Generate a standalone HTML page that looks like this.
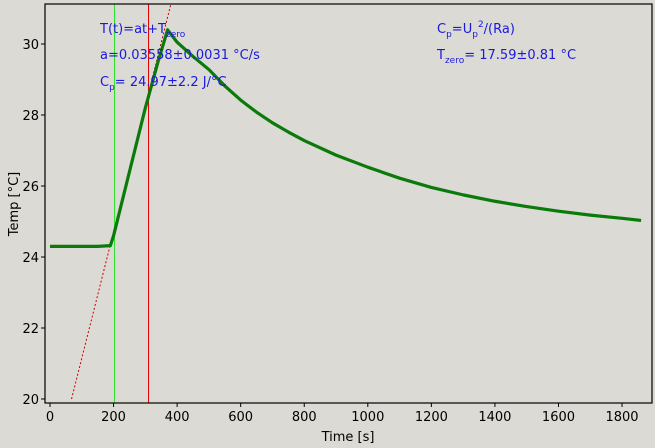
<!DOCTYPE html>
<html><head><meta charset="utf-8"><style>
body{margin:0;background:#dcdad5;}
svg{display:block;font-family:"DejaVu Sans","Liberation Sans",sans-serif;}
</style></head><body>
<svg id="chart" width="655" height="448" viewBox="0 0 655 448">
<rect x="0" y="0" width="655" height="448" fill="#dcdad5"/>
<g id="plot"></g>
<rect x="45" y="4" width="607" height="399" fill="none" stroke="#000" stroke-width="1.2"/>
<g id="axes"></g>
<text x="348" y="441" font-size="13" text-anchor="middle">Time [s]</text>
<text x="18" y="204" font-size="13" text-anchor="middle" transform="rotate(-90 18 204)">Temp [°C]</text>
<g fill="#1a1adc" font-size="13">
<text x="100" y="33">T(t)=at+T<tspan font-size="9" dy="4">zero</tspan></text>
<text x="100" y="59">a=0.03558±0.0031 °C/s</text>
<text x="100" y="86">C<tspan font-size="9" dy="4">p</tspan><tspan dy="-4">= 24.97±2.2 J/°C</tspan></text>
<text x="437" y="33">C<tspan font-size="9" dy="4">p</tspan><tspan dy="-4">=U</tspan><tspan font-size="9" dy="4">p</tspan><tspan font-size="9" dy="-10">2</tspan><tspan dy="6">/(Ra)</tspan></text>
<text x="437" y="59">T<tspan font-size="9" dy="4">zero</tspan><tspan dy="-4">= 17.59±0.81 °C</tspan></text>
</g>
</svg>
<script>
const timeS=[0,50,100,150,190,200,250,300,340,370,400,450,500,550,600,650,700,750,800,900,1000,1100,1200,1300,1400,1500,1600,1700,1800,1860];
const tempC=[24.3,24.3,24.3,24.3,24.32,24.6,26.4,28.2,29.5,30.4,30.05,29.65,29.28,28.82,28.42,28.08,27.78,27.52,27.28,26.87,26.53,26.22,25.96,25.75,25.57,25.42,25.29,25.18,25.09,25.03];
const xTicks=[0,200,400,600,800,1000,1200,1400,1600,1800];
const yTicks=[20,22,24,26,28,30];
const fitSlope=0.03558, fitIntercept=17.59;
const startLine=203, endLine=310;
const NS="http://www.w3.org/2000/svg";
const X=t=>50+t*0.3178;
const Y=v=>399-(v-20)*35.5;
const plot=document.getElementById('plot'), axes=document.getElementById('axes');
function mk(tag,attrs,parent){const e=document.createElementNS(NS,tag);for(const k in attrs)e.setAttribute(k,attrs[k]);parent.appendChild(e);return e;}
const t0=(20-fitIntercept)/fitSlope, t1=(31.1-fitIntercept)/fitSlope;
const fit=mk('line',{x1:X(t0),y1:Y(20),x2:X(t1),y2:Y(fitIntercept+fitSlope*t1),stroke:'#d00000','stroke-width':1,'stroke-dasharray':'2,2'},plot);


const g=mk('line',{x1:X(startLine),y1:4,x2:X(startLine),y2:403,stroke:'#30e030','stroke-width':1},plot);


const r=mk('line',{x1:X(endLine),y1:4,x2:X(endLine),y2:403,stroke:'#e00000','stroke-width':1},plot);


const pl=mk('polyline',{points:timeS.map((t,i)=>X(t)+','+Y(tempC[i])).join(' '),fill:'none',stroke:'#0a7a0a','stroke-width':3.2,'stroke-linejoin':'round'},plot);


xTicks.forEach(t=>{
  const l=mk('line',{x1:X(t),y1:403,x2:X(t),y2:407,stroke:'#000'},axes);
  
  
  const tx=mk('text',{x:X(t),y:421,'font-size':13,'text-anchor':'middle'},axes);
  tx.textContent=t;
  
  
});
yTicks.forEach(v=>{
  const l=mk('line',{x1:41,y1:Y(v),x2:45,y2:Y(v),stroke:'#000'},axes);
  
  
  const tx=mk('text',{x:39,y:Y(v)+5,'font-size':13,'text-anchor':'end'},axes);
  tx.textContent=v;
  
  
});
</script>
</body></html>
